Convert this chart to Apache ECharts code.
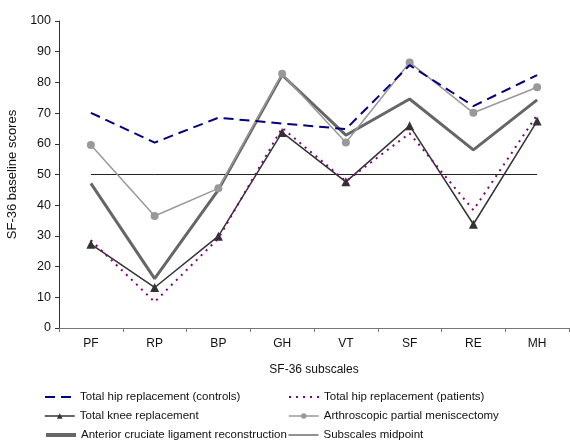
<!DOCTYPE html>
<html>
<head>
<meta charset="utf-8">
<script src="https://cdn.jsdelivr.net/npm/echarts@6/dist/echarts.min.js"></script>
<style>
  html, body { margin: 0; padding: 0; background: #fff; }
  #chart { width: 570px; height: 440px; }
</style>
</head>
<body>
<div id="chart"></div>
<script>
// 数据
const subscales = ["PF", "RP", "BP", "GH", "VT", "SF", "RE", "MH"]
const hipControls = [70.1, 60.4, 68.5, 66.6, 64.8, 85.6, 72.3, 82.4]
const hipPatients = [28.6, 8.5, 29.2, 65.2, 47.8, 63.4, 38.4, 69.4]
const kneeReplacement = [27.3, 13.2, 29.9, 63.7, 47.6, 65.9, 33.8, 67.4]
const meniscectomy = [59.6, 36.5, 45.5, 82.8, 60.4, 86.5, 70.1, 78.4]
const aclReconstruction = [47.1, 16.1, 45, 82.4, 62.8, 74.6, 58, 74.3]
const midpoint = [50, 50, 50, 50, 50, 50, 50, 50]
const yTicks = [0, 100, 10]

const font = "Liberation Sans, Arial, sans-serif"

const chart = echarts.init(document.getElementById("chart"), null, { renderer: "canvas" })

// series 样式
const styleList = [
  { color: "#000080", lineStyle: { width: 2, type: [10, 6] }, symbol: "none" },
  { color: "#800080", lineStyle: { width: 2, type: [2, 5] }, symbol: "none" },
  { color: "#333333", lineStyle: { width: 1.5 }, symbol: "triangle", symbolSize: 9 },
  { color: "#999999", lineStyle: { width: 1.5 }, symbol: "circle", symbolSize: 8 },
  { color: "#666666", lineStyle: { width: 3 }, symbol: "none" },
  { color: "#222222", lineStyle: { width: 1 }, symbol: "none" }
]
const nameList = [
  "Total hip replacement (controls)",
  "Total hip replacement (patients)",
  "Total knee replacement",
  "Arthroscopic partial meniscectomy",
  "Anterior cruciate ligament reconstruction",
  "Subscales midpoint"
]
const dataList = [hipControls, hipPatients, kneeReplacement, meniscectomy, aclReconstruction, midpoint]

const seriesList = styleList.map((s, i) => ({
  type: "line",
  name: nameList[i],
  data: dataList[i],
  symbol: s.symbol,
  symbolSize: s.symbolSize || 0,
  showSymbol: s.symbol !== "none",
  itemStyle: { color: s.color },
  lineStyle: Object.assign({ color: s.color }, s.lineStyle),
  z: 10 - i,
  animation: false
}))

// 图例位置
const legendPos = [
  { left: 44, top: 391 },
  { left: 288, top: 391 },
  { left: 44, top: 410 },
  { left: 288, top: 410 },
  { left: 44, top: 429 },
  { left: 288, top: 429 }
]
const legends = styleList.map((s, i) => ({
  data: [
    {
      name: nameList[i],
      // 无标记的系列在图例中只画线
      itemStyle: s.symbol === "none" ? { opacity: 0 } : {},
      lineStyle: Object.assign({ color: s.color }, s.lineStyle, {
        width: i === 4 ? 4 : s.lineStyle.width
      })
    }
  ],
  left: legendPos[i].left,
  top: legendPos[i].top,
  itemWidth: 30,
  itemHeight: 7,
  itemGap: 4,
  padding: 0,
  selectedMode: false,
  textStyle: { fontFamily: font, fontSize: 11.5, color: "#111" }
}))

const option = {
  backgroundColor: "#ffffff",
  animation: false,
  grid: { left: 59, right: 1, top: 21, bottom: 112, outerBoundsMode: "none", containLabel: false },
  legend: legends,
  xAxis: {
    type: "category",
    data: subscales,
    name: "SF-36 subscales",
    nameLocation: "middle",
    nameGap: 36,
    nameTextStyle: { fontFamily: font, fontSize: 12, color: "#111" },
    axisLine: { lineStyle: { color: "#777", width: 1 } },
    axisTick: { show: true, length: 4, lineStyle: { color: "#777" } },
    axisLabel: { fontFamily: font, fontSize: 12, color: "#111", margin: 10 }
  },
  yAxis: {
    type: "value",
    min: yTicks[0],
    max: yTicks[1],
    interval: yTicks[2],
    name: "SF-36 baseline scores",
    nameLocation: "middle",
    nameGap: 37,
    nameTextStyle: { fontFamily: font, fontSize: 13, color: "#111" },
    splitLine: { show: false },
    axisLine: { show: true, lineStyle: { color: "#333", width: 1 } },
    axisTick: { show: true, length: 4, lineStyle: { color: "#333" } },
    axisLabel: { fontFamily: font, fontSize: 12.5, color: "#111", margin: 8 }
  },
  series: seriesList
}

chart.setOption(option)
</script>
</body>
</html>
